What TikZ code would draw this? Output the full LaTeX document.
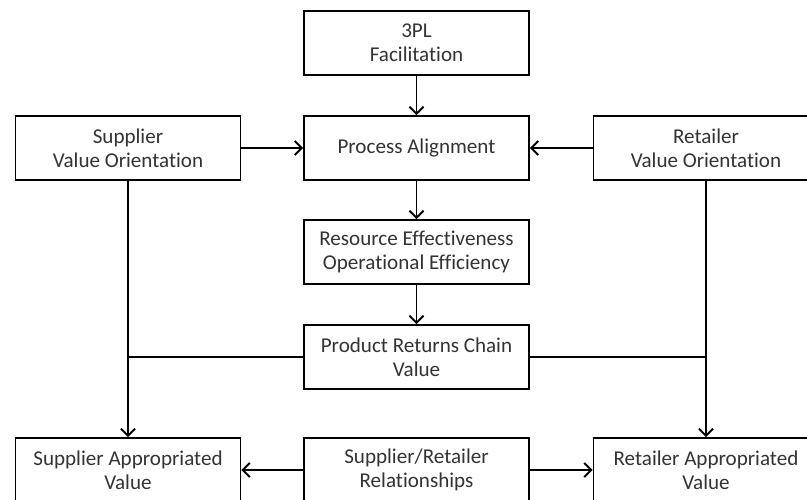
\documentclass[tikz,border=0pt]{standalone}
\usepackage{fontspec}
\setmainfont{Carlito}[Ligatures=NoCommon]
\usepackage{tikz}
\usetikzlibrary{arrows.meta,positioning}

\begin{document}
\begin{tikzpicture}[
    box/.style={draw, line width=1.1pt, minimum width=4.5cm, minimum height=1.28cm,
        inner sep=0pt, align=center, text=black!80, font=\fontsize{12}{13.7}\selectfont},
    link/.style={line width=1.1pt},
    >={Straight Barb[length=4pt, width=8pt]},
  ]
    \useasboundingbox (0,0) rectangle (16.14,10);

    % Top and middle column
    \node[box] (tpl) at (8.33, 9.14) {3PL\\Facilitation};
    \node[box] (pa)  at (8.33, 7.04) {Process Alignment};
    \node[box] (ree) at (8.33, 4.96) {Resource Effectiveness\\Operational Efficiency};
    \node[box] (prc) at (8.33, 2.86) {Product Returns Chain\\Value};
    \node[box] (srr) at (8.33, 0.60) {Supplier/Retailer\\Relationships};

    % Side boxes
    \node[box] (svo) at (2.56, 7.04)  {Supplier\\Value Orientation};
    \node[box] (rvo) at (14.12, 7.04) {Retailer\\Value Orientation};
    \node[box] (sav) at (2.56, 0.60)  {Supplier Appropriated\\Value};
    \node[box] (rav) at (14.12, 0.60) {Retailer Appropriated\\Value};

    % Arrows down the middle
    \draw[->, link] (tpl) -- (pa);
    \draw[->, link] (svo) -- (pa);
    \draw[->, link] (rvo) -- (pa);
    \draw[->, link] (pa) -- (ree);
    \draw[->, link] (ree) -- (prc);

    % Orientation down to appropriated value
    \draw[->, link] (svo) -- (sav);
    \draw[->, link] (rvo) -- (rav);

    % Returns chain value joins both sides
    \draw[link] (prc.west) -- (prc.west -| svo.south);
    \draw[link] (prc.east) -- (prc.east -| rvo.south);

    % Relationships feed both sides
    \draw[->, link] (srr) -- (sav);
    \draw[->, link] (srr) -- (rav);
\end{tikzpicture}
\end{document}
